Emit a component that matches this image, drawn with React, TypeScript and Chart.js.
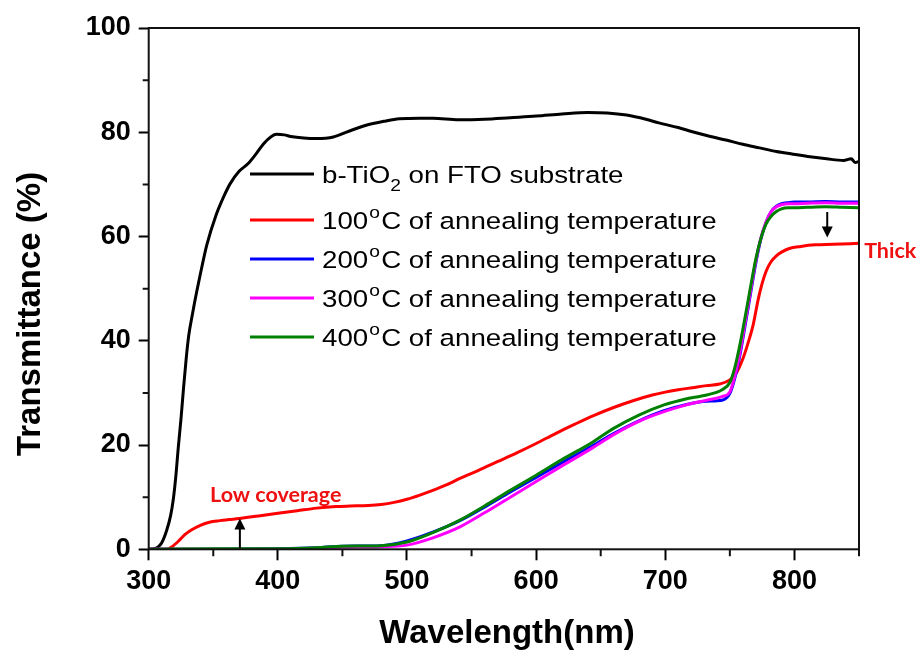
import React, { useEffect, useRef } from 'react';
import { Chart, registerables } from 'chart.js';

Chart.register(...registerables);

// ---------- data ----------
const blackX = [300, 304, 307, 310, 314, 317, 319, 321, 323, 325, 327, 329, 331, 334, 337, 340, 345, 352, 358, 363, 370, 377, 383, 389, 395, 399, 405, 410, 420, 430, 443, 455, 469, 482, 494, 510, 520, 540, 560, 580, 600, 620, 640, 655, 670, 685, 695, 710, 721, 735, 747, 760, 773, 786, 799, 812, 825, 838, 844, 847, 850];
const blackY = [0, 0.1, 0.4, 1.2, 3.7, 6.5, 9.5, 14, 19.8, 25, 31, 36.5, 41, 45.3, 49.2, 52.8, 58.4, 64, 67.6, 70.1, 72.5, 74, 75.8, 77.8, 79.2, 79.6, 79.5, 79.2, 78.9, 78.8, 79.1, 80.2, 81.4, 82.1, 82.6, 82.7, 82.7, 82.4, 82.5, 82.8, 83.1, 83.5, 83.8, 83.7, 83.3, 82.5, 81.8, 80.9, 80.1, 79.2, 78.5, 77.7, 77, 76.3, 75.8, 75.3, 74.9, 74.6, 74.9, 74.2, 74.4];

const redX = [300, 314, 318, 324, 328, 333, 340, 347, 355, 362, 370, 385, 400, 415, 430, 445, 456, 470, 480, 490, 500, 510, 520, 530, 541, 555, 570, 585, 600, 615, 630, 644, 660, 675, 690, 699, 710, 721, 732, 742, 750, 755, 760, 764, 768, 772, 775, 778, 782, 786, 790, 796, 805, 816, 830, 850];
const redY = [0, 0, 0.5, 1.8, 2.8, 3.7, 4.6, 5.2, 5.5, 5.7, 5.9, 6.4, 6.9, 7.4, 7.9, 8.2, 8.3, 8.4, 8.6, 9.0, 9.6, 10.4, 11.3, 12.3, 13.6, 15.1, 16.8, 18.5, 20.3, 22.2, 24.0, 25.6, 27.2, 28.5, 29.6, 30.1, 30.6, 31.0, 31.4, 31.7, 32.5, 33.8, 36.5, 39.5, 43, 48, 51, 53.3, 55.2, 56.3, 57, 57.7, 58.1, 58.4, 58.5, 58.7];

const annealX = [300, 350, 400, 430, 450, 480, 500, 520, 541, 560, 580, 600, 620, 644, 660, 680, 699, 715, 732, 744, 750, 754, 758, 762, 766, 770, 774, 778, 782, 786, 790, 795, 800, 810, 824, 837, 850];
const blueY = [0, 0, 0.1, 0.3, 0.6, 0.7, 1.6, 3.3, 5.5, 8.1, 11.0, 13.8, 16.6, 19.9, 22.2, 24.7, 26.6, 27.7, 28.4, 28.6, 29.9, 33, 37.5, 43.2, 49, 54.8, 59.5, 62.7, 64.8, 65.8, 66.3, 66.5, 66.6, 66.6, 66.7, 66.6, 66.6];
const magentaY = [0, 0, 0, 0.2, 0.4, 0.5, 0.8, 2.2, 4.3, 7.0, 10.0, 13.0, 16.0, 19.5, 22, 24.6, 26.4, 27.6, 28.6, 29.3, 30.2, 33.4, 38, 43.8, 49.5, 55.2, 59.7, 62.8, 64.8, 65.7, 66.1, 66.3, 66.3, 66.4, 66.5, 66.4, 66.4];
const greenY = [0, 0.1, 0.1, 0.3, 0.6, 0.7, 1.4, 3.2, 5.6, 8.3, 11.3, 14.2, 17.2, 20.6, 23.2, 25.8, 27.7, 28.8, 29.6, 30.6, 32.0, 35, 39.5, 44.8, 50.3, 55.6, 59.6, 62.4, 63.9, 64.8, 65.3, 65.5, 65.5, 65.6, 65.7, 65.6, 65.5];

const xMajorTicks = [300, 400, 500, 600, 700, 800];
const xMinorTicks = [350, 450, 550, 650, 750, 850];
const yMajorTicks = [0, 20, 40, 60, 80, 100];
const yMinorTicks = [10, 30, 50, 70, 90];

const seriesNames = [
  [{ t: 'b-TiO' }, { t: '2', sub: true }, { t: ' on FTO substrate' }],
  [{ t: '100' }, { t: 'o', sup: true }, { t: 'C of annealing temperature' }],
  [{ t: '200' }, { t: 'o', sup: true }, { t: 'C of annealing temperature' }],
  [{ t: '300' }, { t: 'o', sup: true }, { t: 'C of annealing temperature' }],
  [{ t: '400' }, { t: 'o', sup: true }, { t: 'C of annealing temperature' }],
];
const seriesColors = ['#000000', '#ff0000', '#0000ff', '#ff00ff', '#008000'];

const xTitle = 'Wavelength(nm)';
const yTitle = 'Transmittance (%)';

// annotations in data units
const lowText = { text: 'Low coverage', x: 347.5, y: 9.1 };
const lowArrow = { x: 370.6, from: 0.2, to: 5.9 };
const thickText = { text: 'Thick', x: 854, y: 55.9 };
const thickArrow = { x: 825.4, from: 64.7, to: 59.8 };

// ---------- layout ----------
const W = 918;
const H = 650;
const FONT = '"Liberation Sans", Arial, sans-serif';
const legendLayout = { lineX0: 250, lineX1: 314, textX: 322, rows: [174, 220, 259, 298, 337], size: 24.5, stretch: 1.13 };

function toPts(xs: number[], ys: number[]) {
  return xs.map((v, i) => ({ x: v, y: ys[i] }));
}

const overlay = {
  id: 'overlay',
  afterDraw(chart: any) {
    const { ctx, chartArea: a, scales } = chart;
    const xs = scales.x;
    const ys = scales.y;
    ctx.save();
    // frame
    ctx.strokeStyle = '#111';
    ctx.lineWidth = 2;
    ctx.strokeRect(a.left, a.top, a.right - a.left, a.bottom - a.top);
    // minor ticks
    ctx.beginPath();
    xMinorTicks.forEach((v) => {
      const px = xs.getPixelForValue(v);
      ctx.moveTo(px, a.bottom);
      ctx.lineTo(px, a.bottom + 7);
    });
    yMinorTicks.forEach((v) => {
      const py = ys.getPixelForValue(v);
      ctx.moveTo(a.left, py);
      ctx.lineTo(a.left - 6, py);
    });
    ctx.stroke();

    // axis titles
    ctx.fillStyle = '#000';
    ctx.font = `bold 33px ${FONT}`;
    ctx.textAlign = 'center';
    ctx.textBaseline = 'alphabetic';
    ctx.fillText(xTitle, 507, 643);
    ctx.save();
    ctx.translate(40, 314);
    ctx.rotate(-Math.PI / 2);
    ctx.fillText(yTitle, 0, 0);
    ctx.restore();

    // legend
    ctx.textAlign = 'left';
    const sz = legendLayout.size;
    const small = Math.round(sz * 0.68);
    legendLayout.rows.forEach((ry, i) => {
      ctx.strokeStyle = seriesColors[i];
      ctx.lineWidth = 3;
      ctx.beginPath();
      ctx.moveTo(legendLayout.lineX0, ry);
      ctx.lineTo(legendLayout.lineX1, ry);
      ctx.stroke();
      const base = ry + 9;
      ctx.save();
      ctx.translate(legendLayout.textX, 0);
      ctx.scale(legendLayout.stretch, 1);
      let x = 0;
      ctx.fillStyle = '#000';
      seriesNames[i].forEach((p: any) => {
        if (p.sub) {
          ctx.font = `${small}px ${FONT}`;
          ctx.fillText(p.t, x, base + 8);
        } else if (p.sup) {
          ctx.font = `${small}px ${FONT}`;
          ctx.fillText(p.t, x + 1, base - 11);
        } else {
          ctx.font = `${sz}px ${FONT}`;
          ctx.fillText(p.t, x, base);
        }
        x += ctx.measureText(p.t).width + (p.sup ? 2 : 0);
      });
      ctx.restore();
    });

    // annotations
    const drawArrow = (ax: number, y0: number, y1: number) => {
      const px = xs.getPixelForValue(ax);
      const p0 = ys.getPixelForValue(y0);
      const p1 = ys.getPixelForValue(y1);
      const dir = p1 < p0 ? -1 : 1;
      ctx.strokeStyle = '#000';
      ctx.fillStyle = '#000';
      ctx.lineWidth = 2;
      ctx.beginPath();
      ctx.moveTo(px, p0);
      ctx.lineTo(px, p1 - dir * 9);
      ctx.stroke();
      ctx.beginPath();
      ctx.moveTo(px, p1);
      ctx.lineTo(px - 5.5, p1 - dir * 11);
      ctx.lineTo(px + 5.5, p1 - dir * 11);
      ctx.closePath();
      ctx.fill();
    };
    drawArrow(lowArrow.x, lowArrow.from, lowArrow.to);
    drawArrow(thickArrow.x, thickArrow.from, thickArrow.to);
    ctx.fillStyle = '#ee1111';
    ctx.font = 'bold 21.5px Lato, sans-serif';
    ctx.textAlign = 'left';
    ctx.fillText(lowText.text, xs.getPixelForValue(lowText.x), ys.getPixelForValue(lowText.y));
    ctx.fillText(thickText.text, xs.getPixelForValue(thickText.x), ys.getPixelForValue(thickText.y));
    ctx.restore();
  },
};

export default function App() {
  const ref = useRef<HTMLCanvasElement | null>(null);
  useEffect(() => {
    if (!ref.current) return;
    const mk = (label: string, xs: number[], ys: number[], color: string, order: number, width = 3) => ({
      label,
      data: toPts(xs, ys),
      borderColor: color,
      backgroundColor: color,
      borderWidth: width,
      pointRadius: 0,
      cubicInterpolationMode: 'monotone' as const,
      order,
    });
    const chart = new Chart(ref.current, {
      type: 'line',
      data: {
        datasets: [
          mk('b-TiO2 on FTO substrate', blackX, blackY, seriesColors[0], 5, 3),
          mk('100°C of annealing temperature', redX, redY, seriesColors[1], 4),
          mk('200°C of annealing temperature', annealX, blueY, seriesColors[2], 3),
          mk('300°C of annealing temperature', annealX, magentaY, seriesColors[3], 2),
          mk('400°C of annealing temperature', annealX, greenY, seriesColors[4], 1),
        ],
      },
      options: {
        responsive: false,
        animation: false,
        devicePixelRatio: 1,
        layout: { padding: { left: 0, right: 59, top: 28, bottom: 0 } },
        plugins: { legend: { display: false }, tooltip: { enabled: false } },
        scales: {
          x: {
            type: 'linear',
            min: 300,
            max: 850,
            afterBuildTicks: (s: any) => {
              s.ticks = xMajorTicks.map((v) => ({ value: v }));
            },
            afterFit: (s: any) => {
              s.height = 100.7;
            },
            ticks: {
              color: '#000',
              font: { family: FONT, size: 27, weight: 'bold' },
              padding: 5,
              maxRotation: 0,
            },
            grid: { drawOnChartArea: false, tickLength: 11, tickWidth: 2, tickColor: '#000' },
            border: { display: false },
          },
          y: {
            type: 'linear',
            min: 0,
            max: 100,
            afterBuildTicks: (s: any) => {
              s.ticks = yMajorTicks.map((v) => ({ value: v }));
            },
            afterFit: (s: any) => {
              s.width = 148.7;
            },
            ticks: {
              color: '#000',
              font: { family: FONT, size: 27, weight: 'bold' },
              padding: 8,
            },
            grid: { drawOnChartArea: false, tickLength: 10, tickWidth: 2, tickColor: '#000' },
            border: { display: false },
          },
        },
      },
      plugins: [overlay],
    });
    return () => chart.destroy();
  }, []);
  return (
    <div style={{ position: 'absolute', left: 0, top: 0, width: W, height: H, background: '#fff' }}>
      <canvas ref={ref} width={W} height={H} style={{ width: W, height: H, display: 'block' }} />
    </div>
  );
}
